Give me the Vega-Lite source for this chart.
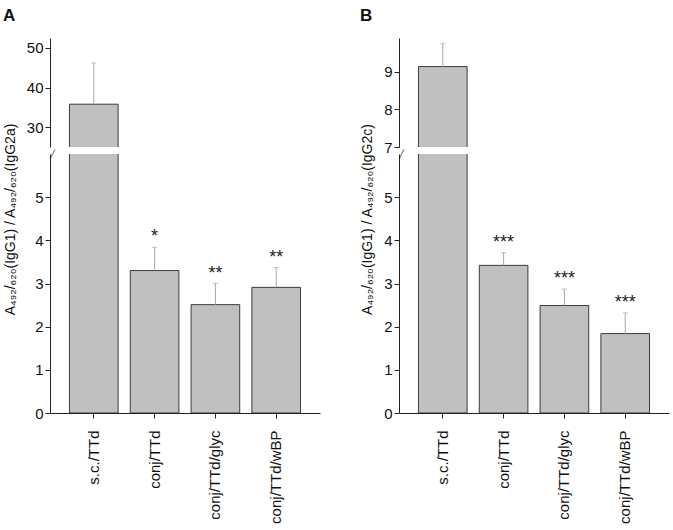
{
  "$schema": "https://vega.github.io/schema/vega-lite/v6.json",
  "padding": {"left": 2, "top": 7, "right": 4, "bottom": 0},
  "config": {
    "font": "Liberation Sans",
    "view": {"stroke": null},
    "axis": {"domainColor": "#222222", "tickColor": "#222222", "labelColor": "#111111", "titleColor": "#111111", "grid": false, "labelFont": "Liberation Sans", "titleFont": "Liberation Sans"},
    "axisY": {"labelOverlap": false},
    "title": {"font": "Liberation Sans"}
  },
  "datasets": {
    "A": [
      {"group": "s.c./TTd", "mean": 35.8, "upper": 46.2, "sig": ""},
      {"group": "conj/TTd", "mean": 3.3, "upper": 3.84, "sig": "*"},
      {"group": "conj/TTd/glyc", "mean": 2.51, "upper": 3.0, "sig": "**"},
      {"group": "conj/TTd/wBP", "mean": 2.91, "upper": 3.37, "sig": "**"}
    ],
    "B": [
      {"group": "s.c./TTd", "mean": 9.14, "upper": 9.75, "sig": ""},
      {"group": "conj/TTd", "mean": 3.42, "upper": 3.71, "sig": "***"},
      {"group": "conj/TTd/glyc", "mean": 2.49, "upper": 2.87, "sig": "***"},
      {"group": "conj/TTd/wBP", "mean": 1.84, "upper": 2.32, "sig": "***"}
    ]
  },
  "spacing": 39,
  "hconcat": [
    {
      "title": {"text": "A", "anchor": "start", "frame": "bounds", "fontSize": 17, "fontWeight": "bold", "baseline": "top", "offset": 13, "color": "#111111"},
      "spacing": 7,
      "bounds": "flush",
      "vconcat": [
        {
          "data": {"name": "A"},
          "width": 270, "height": 109,
          "encoding": {"x": {"field": "group", "type": "nominal", "sort": null, "scale": {"paddingInner": 0.2, "paddingOuter": 0.32}, "axis": null}},
          "layer": [
            {"mark": {"type": "bar", "fill": "#c0c0c0", "stroke": "#3c3c3c", "strokeWidth": 1, "clip": true},
             "encoding": {"y": {"field": "mean", "type": "quantitative", "scale": {"domain": [25, 52.5], "nice": false, "zero": false},
               "axis": {"title": null, "values": [30, 35, 40, 45, 50], "labelExpr": "datum.value % 10 === 0 ? datum.label : ''", "tickSize": {"condition": {"test": "datum.value % 10 !== 0", "value": 3}, "value": 5}, "labelFontSize": 15, "labelPadding": 2}},
               "y2": {"datum": 0}}},
            {"mark": {"type": "rule", "color": "#a8a8a8", "strokeWidth": 1, "clip": true},
             "encoding": {"y": {"field": "mean", "type": "quantitative"}, "y2": {"field": "upper"}}},
            {"mark": {"type": "tick", "color": "#a8a8a8", "thickness": 1, "size": 5, "clip": true},
             "encoding": {"y": {"field": "upper", "type": "quantitative"}}}
          ]
        },
        {
          "data": {"name": "A"},
          "width": 270, "height": 259,
          "encoding": {"x": {"field": "group", "type": "nominal", "sort": null, "scale": {"paddingInner": 0.2, "paddingOuter": 0.32},
            "axis": {"title": null, "labelAngle": 270, "labelFontSize": 15, "tickSize": 5, "labelPadding": 12}}},
          "layer": [
            {"mark": {"type": "bar", "fill": "#c0c0c0", "stroke": "#3c3c3c", "strokeWidth": 1, "clip": true},
             "encoding": {"y": {"field": "mean", "type": "quantitative", "scale": {"domain": [0, 6], "nice": false},
               "axis": {"title": "A₄₉₂/₆₂₀(IgG1) / A₄₉₂/₆₂₀(IgG2a)", "titleFontSize": 14, "titleFontWeight": "normal", "titleAngle": 270, "titleX": -33, "titleY": 65, "titleAlign": "center", "titleBaseline": "bottom",
                 "values": [0, 0.5, 1, 1.5, 2, 2.5, 3, 3.5, 4, 4.5, 5, 5.5, 5.98, 6.21],
                 "labelExpr": "datum.value > 5.9 ? '╱' : (datum.value % 1 === 0 ? datum.label : '')",
                 "tickSize": {"condition": {"test": "datum.value % 1 !== 0", "value": 3}, "value": 5},
                 "tickOpacity": {"condition": {"test": "datum.value > 5.9", "value": 0}, "value": 1},
                 "labelAlign": {"condition": {"test": "datum.value > 5.9", "value": "center"}, "value": "right"},
                 "labelPadding": {"condition": {"test": "datum.value > 5.9", "value": -5}, "value": 2},
                 "labelFontSize": {"condition": {"test": "datum.value > 5.9", "value": 8}, "value": 15},
                 "labelFont": {"condition": {"test": "datum.value > 5.9", "value": "DejaVu Sans"}, "value": "Liberation Sans"}}},
               "y2": {"datum": 0}}},
            {"mark": {"type": "rule", "color": "#a8a8a8", "strokeWidth": 1, "clip": true},
             "encoding": {"y": {"field": "mean", "type": "quantitative"}, "y2": {"field": "upper"}}},
            {"mark": {"type": "tick", "color": "#a8a8a8", "thickness": 1, "size": 5, "clip": true},
             "encoding": {"y": {"field": "upper", "type": "quantitative"}}},
            {"mark": {"type": "text", "fontSize": 18, "dy": -5, "baseline": "alphabetic", "color": "#222222", "clip": true},
             "encoding": {"y": {"field": "upper", "type": "quantitative"}, "text": {"field": "sig"}}}
          ]
        }
      ]
    },
    {
      "title": {"text": "B", "anchor": "start", "frame": "bounds", "fontSize": 17, "fontWeight": "bold", "baseline": "top", "offset": 13, "color": "#111111"},
      "spacing": 7,
      "bounds": "flush",
      "vconcat": [
        {
          "data": {"name": "B"},
          "width": 270, "height": 109,
          "encoding": {"x": {"field": "group", "type": "nominal", "sort": null, "scale": {"paddingInner": 0.2, "paddingOuter": 0.32}, "axis": null}},
          "layer": [
            {"mark": {"type": "bar", "fill": "#c0c0c0", "stroke": "#3c3c3c", "strokeWidth": 1, "clip": true},
             "encoding": {"y": {"field": "mean", "type": "quantitative", "scale": {"domain": [7, 9.9], "nice": false, "zero": false},
               "axis": {"title": null, "values": [7, 7.5, 8, 8.5, 9, 9.5], "labelExpr": "datum.value % 1 === 0 ? datum.label : ''", "tickSize": {"condition": {"test": "datum.value % 1 !== 0", "value": 3}, "value": 5}, "labelFontSize": 15, "labelPadding": 2}},
               "y2": {"datum": 0}}},
            {"mark": {"type": "rule", "color": "#a8a8a8", "strokeWidth": 1, "clip": true},
             "encoding": {"y": {"field": "mean", "type": "quantitative"}, "y2": {"field": "upper"}}},
            {"mark": {"type": "tick", "color": "#a8a8a8", "thickness": 1, "size": 5, "clip": true},
             "encoding": {"y": {"field": "upper", "type": "quantitative"}}}
          ]
        },
        {
          "data": {"name": "B"},
          "width": 270, "height": 259,
          "encoding": {"x": {"field": "group", "type": "nominal", "sort": null, "scale": {"paddingInner": 0.2, "paddingOuter": 0.32},
            "axis": {"title": null, "labelAngle": 270, "labelFontSize": 15, "tickSize": 5, "labelPadding": 12}}},
          "layer": [
            {"mark": {"type": "bar", "fill": "#c0c0c0", "stroke": "#3c3c3c", "strokeWidth": 1, "clip": true},
             "encoding": {"y": {"field": "mean", "type": "quantitative", "scale": {"domain": [0, 6], "nice": false},
               "axis": {"title": "A₄₉₂/₆₂₀(IgG1) / A₄₉₂/₆₂₀(IgG2c)", "titleFontSize": 14, "titleFontWeight": "normal", "titleAngle": 270, "titleX": -25, "titleY": 65, "titleAlign": "center", "titleBaseline": "bottom",
                 "values": [0, 0.5, 1, 1.5, 2, 2.5, 3, 3.5, 4, 4.5, 5, 5.5, 5.98, 6.21],
                 "labelExpr": "datum.value > 5.9 ? '╱' : (datum.value % 1 === 0 ? datum.label : '')",
                 "tickSize": {"condition": {"test": "datum.value % 1 !== 0", "value": 3}, "value": 5},
                 "tickOpacity": {"condition": {"test": "datum.value > 5.9", "value": 0}, "value": 1},
                 "labelAlign": {"condition": {"test": "datum.value > 5.9", "value": "center"}, "value": "right"},
                 "labelPadding": {"condition": {"test": "datum.value > 5.9", "value": -5}, "value": 2},
                 "labelFontSize": {"condition": {"test": "datum.value > 5.9", "value": 8}, "value": 15},
                 "labelFont": {"condition": {"test": "datum.value > 5.9", "value": "DejaVu Sans"}, "value": "Liberation Sans"}}},
               "y2": {"datum": 0}}},
            {"mark": {"type": "rule", "color": "#a8a8a8", "strokeWidth": 1, "clip": true},
             "encoding": {"y": {"field": "mean", "type": "quantitative"}, "y2": {"field": "upper"}}},
            {"mark": {"type": "tick", "color": "#a8a8a8", "thickness": 1, "size": 5, "clip": true},
             "encoding": {"y": {"field": "upper", "type": "quantitative"}}},
            {"mark": {"type": "text", "fontSize": 18, "dy": -5, "baseline": "alphabetic", "color": "#222222", "clip": true},
             "encoding": {"y": {"field": "upper", "type": "quantitative"}, "text": {"field": "sig"}}}
          ]
        }
      ]
    }
  ]
}
